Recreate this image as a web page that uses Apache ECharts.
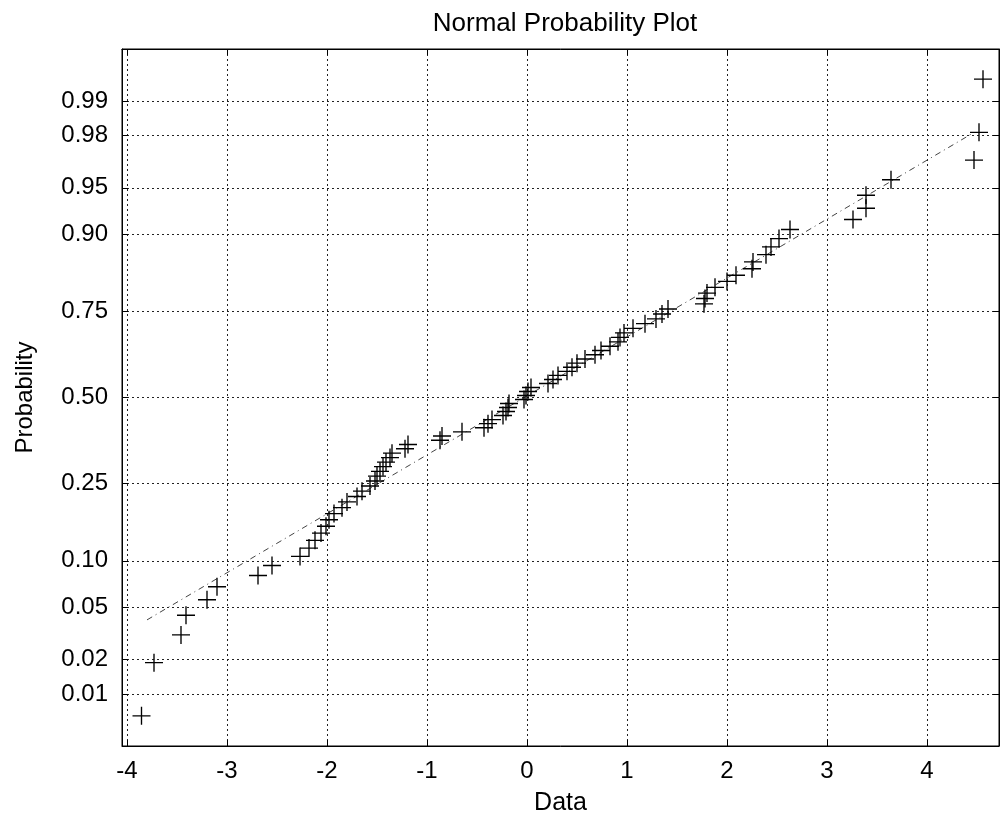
<!DOCTYPE html>
<html>
<head>
<meta charset="utf-8">
<script src="https://cdn.jsdelivr.net/npm/echarts@6/dist/echarts.min.js"></script>
<style>
html,body{margin:0;padding:0;background:#fff;}
#chart{width:1000px;height:821px;}
</style>
</head>
<body>
<div id="chart"></div>
<script>
// ---- data ----
const dataX = [
  -3.855, -3.73, -3.46, -3.41, -3.20, -3.10, -2.69, -2.55, -2.27, -2.18,
  -2.12, -2.06, -2.01, -1.98, -1.93, -1.85, -1.80, -1.70, -1.65, -1.57,
  -1.52, -1.50, -1.47, -1.44, -1.41, -1.37, -1.35, -1.22, -1.19, -0.87,
  -0.85, -0.65, -0.43, -0.39, -0.35, -0.24, -0.21, -0.19, -0.18, -0.03,
  -0.01, 0.01, 0.04, 0.21, 0.26, 0.31, 0.40, 0.45, 0.50, 0.58,
  0.68, 0.74, 0.83, 0.91, 0.93, 0.97, 1.06, 1.18, 1.29, 1.35,
  1.41, 1.77, 1.78, 1.80, 1.88, 2.00, 2.09, 2.25, 2.26, 2.39,
  2.44, 2.52, 2.63, 3.26, 3.39, 3.39, 3.64, 4.47, 4.52, 4.56
];
const dataP = [
  0.00625, 0.01875, 0.03125, 0.04375, 0.05625, 0.06875, 0.08125, 0.09375, 0.10625, 0.11875,
  0.13125, 0.14375, 0.15625, 0.16875, 0.18125, 0.19375, 0.20625, 0.21875, 0.23125, 0.24375,
  0.25625, 0.26875, 0.28125, 0.29375, 0.30625, 0.31875, 0.33125, 0.34375, 0.35625, 0.36875,
  0.38125, 0.39375, 0.40625, 0.41875, 0.43125, 0.44375, 0.45625, 0.46875, 0.48125, 0.49375,
  0.50625, 0.51875, 0.53125, 0.54375, 0.55625, 0.56875, 0.58125, 0.59375, 0.60625, 0.61875,
  0.63125, 0.64375, 0.65625, 0.66875, 0.68125, 0.69375, 0.70625, 0.71875, 0.73125, 0.74375,
  0.75625, 0.76875, 0.78125, 0.79375, 0.80625, 0.81875, 0.83125, 0.84375, 0.85625, 0.86875,
  0.88125, 0.89375, 0.90625, 0.91875, 0.93125, 0.94375, 0.95625, 0.96875, 0.98125, 0.99375
];
const fitX = [-3.80, 4.46];
const fitP = [0.0405, 0.981];
const xTicks = [-4, -3, -2, -1, 0, 1, 2, 3, 4];
const xLimits = [-4.05, 4.72];
const probTicks = [0.01, 0.02, 0.05, 0.10, 0.25, 0.50, 0.75, 0.90, 0.95, 0.98, 0.99];
const probTickLabels = ['0.01', '0.02', '0.05', '0.10', '0.25', '0.50', '0.75', '0.90', '0.95', '0.98', '0.99'];
const probLimits = [0.003125, 0.996875];

// inverse standard normal CDF (Acklam) – the probability-axis scale
function norminv(p) {
  const a = [-3.969683028665376e+01, 2.209460984245205e+02, -2.759285104469687e+02, 1.383577518672690e+02, -3.066479806614716e+01, 2.506628277459239e+00];
  const b = [-5.447609879822406e+01, 1.615858368580409e+02, -1.556989798598866e+02, 6.680131188771972e+01, -1.328068155288572e+01];
  const c = [-7.784894002430293e-03, -3.223964580411365e-01, -2.400758277161838e+00, -2.549732539343734e+00, 4.374664141464968e+00, 2.938163982698783e+00];
  const d = [7.784695709041462e-03, 3.224671290700398e-01, 2.445134137142996e+00, 3.754408661907416e+00];
  const pl = 0.02425, ph = 1 - pl;
  let q, r;
  if (p < pl) {
    q = Math.sqrt(-2 * Math.log(p));
    return (((((c[0]*q+c[1])*q+c[2])*q+c[3])*q+c[4])*q+c[5]) / ((((d[0]*q+d[1])*q+d[2])*q+d[3])*q+1);
  }
  if (p <= ph) {
    q = p - 0.5; r = q * q;
    return (((((a[0]*r+a[1])*r+a[2])*r+a[3])*r+a[4])*r+a[5])*q / (((((b[0]*r+b[1])*r+b[2])*r+b[3])*r+b[4])*r+1);
  }
  q = Math.sqrt(-2 * Math.log(1 - p));
  return -(((((c[0]*q+c[1])*q+c[2])*q+c[3])*q+c[4])*q+c[5]) / ((((d[0]*q+d[1])*q+d[2])*q+d[3])*q+1);
}

const yTickZ = probTicks.map(norminv);
const yMin = norminv(probLimits[0]);
const yMax = norminv(probLimits[1]);
const points = dataX.map((x, i) => [x, norminv(dataP[i])]);
const fitLine = fitX.map((x, i) => [x, norminv(fitP[i])]);

function probLabel(v) {
  let best = 0, bd = Infinity;
  yTickZ.forEach((z, i) => { const dd = Math.abs(z - v); if (dd < bd) { bd = dd; best = i; } });
  return probTickLabels[best];
}

const FONT = 'Liberation Sans, Arial, Helvetica, sans-serif';
const gridLine = { show: true, lineStyle: { color: '#222', width: 1, type: [2, 3] } };
const plusPath = 'path://M0,7.4H16V8.6H0Z M7.4,0H8.6V16H7.4Z';

const chart = echarts.init(document.getElementById('chart'), null, { renderer: 'canvas' });
chart.setOption({
  animation: false,
  backgroundColor: '#fff',
  title: {
    text: 'Normal Probability Plot',
    left: 560,
    top: 6,
    textAlign: 'center',
    textStyle: { fontFamily: FONT, fontSize: 26, fontWeight: 'normal', color: '#000' }
  },
  grid: { left: 122, right: 1, top: 49, bottom: 75, show: true, borderColor: '#000', borderWidth: 1, containLabel: false },
  xAxis: [
    {
      type: 'value', min: xLimits[0], max: xLimits[1], position: 'bottom',
      name: 'Data', nameLocation: 'middle', nameGap: 45,
      nameTextStyle: { fontFamily: FONT, fontSize: 25, color: '#000' },
      axisLine: { show: true, onZero: false, lineStyle: { color: '#000', width: 1 } },
      axisTick: { show: true, inside: true, length: 6, customValues: xTicks, lineStyle: { color: '#000' } },
      axisLabel: { show: true, customValues: xTicks, margin: 13, fontFamily: FONT, fontSize: 24, color: '#000',
        formatter: v => String(Math.round(v)) },
      splitLine: gridLine
    },
    {
      type: 'value', min: xLimits[0], max: xLimits[1], position: 'top',
      axisLine: { show: true, onZero: false, lineStyle: { color: '#000', width: 1 } },
      axisTick: { show: true, inside: true, length: 6, customValues: xTicks, lineStyle: { color: '#000' } },
      axisLabel: { show: false },
      splitLine: { show: false }
    }
  ],
  yAxis: [
    {
      type: 'value', min: yMin, max: yMax, position: 'left',
      name: 'Probability', nameLocation: 'middle', nameGap: 85, nameRotate: 90,
      nameTextStyle: { fontFamily: FONT, fontSize: 24, color: '#000' },
      axisLine: { show: true, onZero: false, lineStyle: { color: '#000', width: 1 } },
      axisTick: { show: true, inside: true, length: 6, customValues: yTickZ, lineStyle: { color: '#000' } },
      axisLabel: { show: true, customValues: yTickZ, margin: 14, fontFamily: FONT, fontSize: 24, color: '#000',
        formatter: v => probLabel(v) },
      splitLine: gridLine
    },
    {
      type: 'value', min: yMin, max: yMax, position: 'right',
      axisLine: { show: true, onZero: false, lineStyle: { color: '#000', width: 1 } },
      axisTick: { show: true, inside: true, length: 6, customValues: yTickZ, lineStyle: { color: '#000' } },
      axisLabel: { show: false },
      splitLine: { show: false }
    }
  ],
  series: [
    {
      name: 'Fit', type: 'line', xAxisIndex: 0, yAxisIndex: 0,
      data: fitLine, showSymbol: false, symbol: 'none',
      lineStyle: { color: '#444', width: 1, type: [6, 4, 1, 4] },
      z: 2
    },
    {
      name: 'Data', type: 'scatter', xAxisIndex: 0, yAxisIndex: 0,
      data: points, symbol: plusPath, symbolSize: 18,
      itemStyle: { color: '#000', opacity: 1 },
      z: 3
    }
  ]
});
</script>
</body>
</html>
